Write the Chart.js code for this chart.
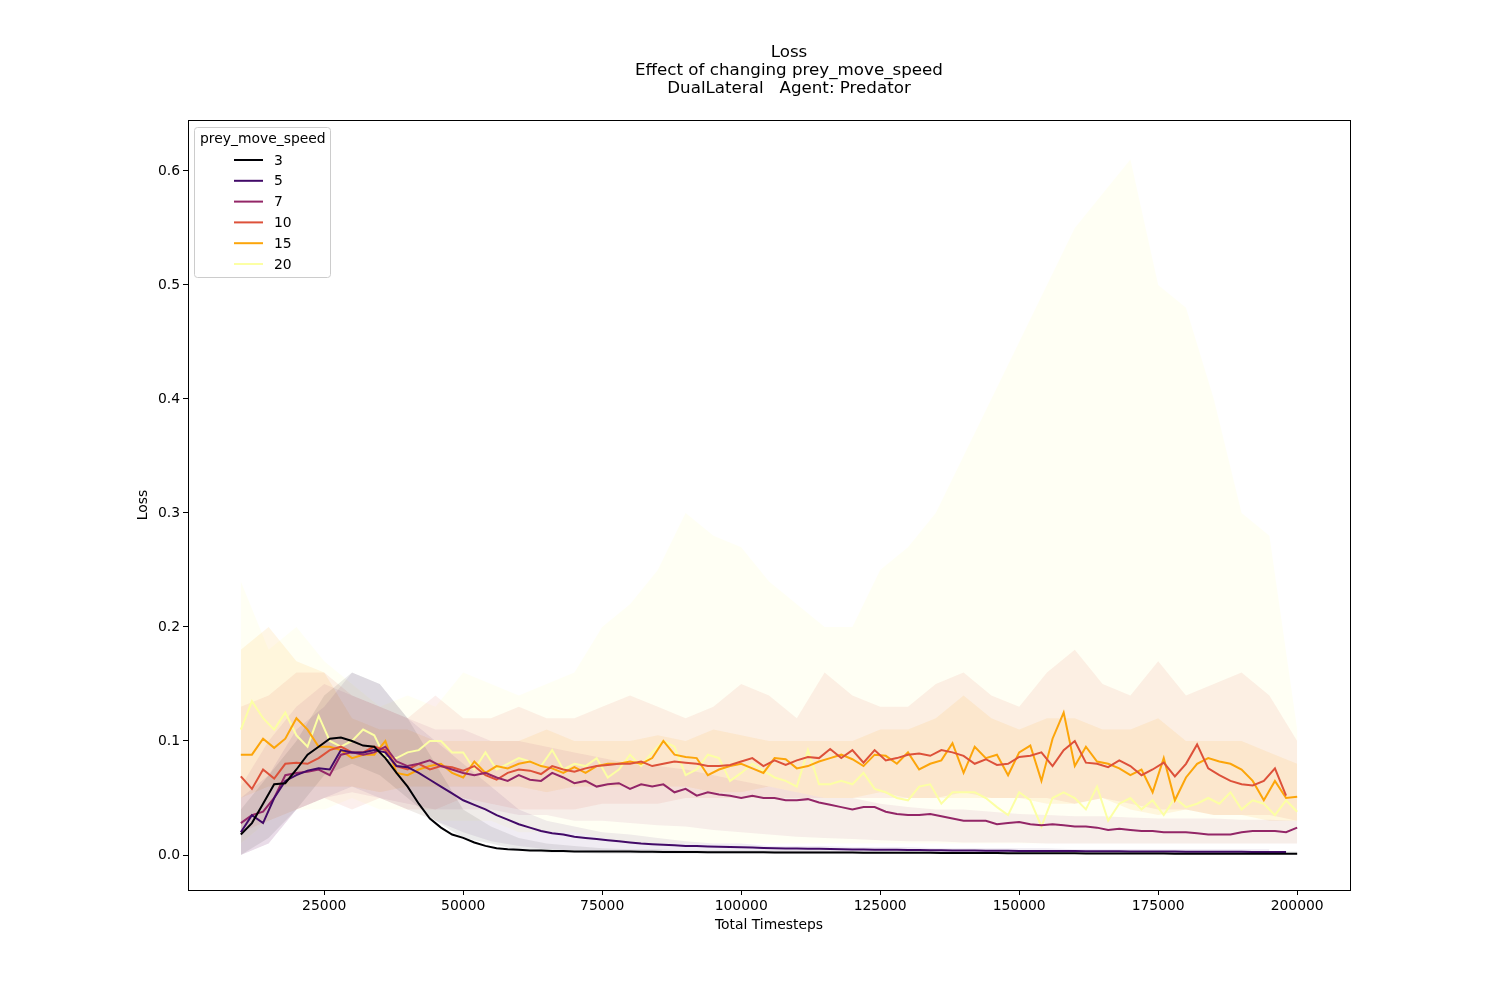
<!DOCTYPE html>
<html>
<head>
<meta charset="utf-8">
<script src="https://cdn.jsdelivr.net/npm/chart.js@4"></script>
<style>
  body { margin: 0; background: #fff; }
  #wrap { width: 1500px; height: 1000px; }
</style>
</head>
<body>
<div id="wrap"><canvas id="chart"></canvas></div>
<script>
// x positions: every 2000 timesteps from 10000 to 200000
const timesteps = [];
for (let t = 10000; t <= 200000; t += 2000) timesteps.push(t);
// band x positions: every 5000 timesteps
const bandSteps = [];
for (let t = 10000; t <= 200000; t += 5000) bandSteps.push(t);

const speeds = ['3', '5', '7', '10', '15', '20'];
const colors = ['#000004', '#420a68', '#932667', '#dd513a', '#fca50a', '#fcffa4'];
const bandAlpha = [0.08, 0.08, 0.08, 0.09, 0.1, 0.12];

const loss3 = [
  .018,.028,.045,.062,.063,.075,.088,.095,.102,.103,
  .100,.096,.095,.085,.072,.060,.045,.032,.024,.018,
  .015,.011,.008,.006,.005,.0045,.004,.004,.0035,.0035,
  .003,.003,.003,.003,.003,.003,.0028,.0028,.0027,.0027,
  .0026,.0026,.0025,.0025,.0025,.0024,.0024,.0024,.0023,.0023,
  .0022,.0022,.0022,.0021,.0021,.0021,.002,.002,.002,.002,
  .0019,.0019,.0019,.0018,.0018,.0018,.0017,.0017,.0017,.0016,
  .0016,.0016,.0015,.0015,.0015,.0015,.0014,.0014,.0014,.0014,
  .0013,.0013,.0013,.0013,.0012,.0012,.0012,.0012,.0012,.0011,
  .0011,.0011,.0011,.0011,.001,.001];
const loss5 = [
  .020,.035,.028,.050,.065,.070,.074,.076,.075,.092,
  .090,.090,.092,.090,.078,.077,.072,.066,.060,.054,
  .048,.044,.040,.035,.031,.027,.024,.021,.019,.018,
  .016,.015,.014,.013,.012,.011,.010,.0095,.009,.0085,
  .008,.0078,.0075,.0072,.007,.0068,.0065,.0062,.006,.0058,
  .0056,.0055,.0054,.0052,.005,.0049,.0048,.0047,.0046,.0045,
  .0044,.0043,.0042,.0041,.004,.004,.0039,.0038,.0038,.0037,
  .0036,.0036,.0035,.0035,.0034,.0034,.0033,.0033,.0032,.0032,
  .0031,.0031,.003,.003,.003,.0029,.0029,.0029,.0028,.0028,
  .0028,.0027,.0027,.0027,.0026,null];
const loss7 = [
  .028,.035,.038,.050,.070,.072,.073,.075,.070,.088,
  .090,.088,.090,.095,.082,.078,.080,.083,.078,.075,
  .072,.070,.072,.068,.065,.070,.066,.065,.072,.068,
  .063,.065,.060,.062,.063,.058,.062,.060,.062,.055,
  .058,.052,.055,.053,.052,.050,.052,.050,.050,.048,
  .048,.049,.046,.044,.042,.040,.042,.042,.038,.036,
  .035,.035,.036,.034,.032,.030,.030,.030,.027,.028,
  .029,.027,.026,.027,.026,.025,.025,.024,.022,.023,
  .022,.021,.021,.020,.020,.020,.019,.018,.018,.018,
  .020,.021,.021,.021,.020,.024];
const loss10 = [
  .069,.058,.075,.067,.080,.081,.080,.085,.092,.095,
  .090,.090,.095,.092,.078,.075,.080,.075,.078,.077,
  .074,.078,.070,.066,.072,.075,.074,.071,.078,.075,
  .073,.076,.078,.079,.080,.080,.082,.078,.080,.082,
  .081,.080,.078,.078,.079,.082,.085,.078,.083,.079,
  .083,.086,.085,.093,.085,.092,.081,.092,.083,.085,
  .088,.089,.087,.092,.090,.087,.080,.084,.079,.080,
  .086,.087,.090,.078,.092,.100,.081,.080,.077,.083,
  .078,.070,.075,.081,.069,.080,.097,.076,.070,.065,
  .062,.061,.065,.076,.052,null];
const loss15 = [
  .088,.088,.102,.094,.102,.120,.110,.095,.095,.092,
  .085,.088,.088,.100,.072,.070,.075,.078,.080,.072,
  .068,.082,.072,.078,.076,.080,.082,.078,.076,.072,
  .077,.072,.078,.080,.080,.082,.080,.085,.100,.088,
  .086,.085,.070,.075,.078,.080,.076,.072,.085,.084,
  .076,.078,.082,.085,.088,.084,.078,.088,.087,.080,
  .090,.075,.080,.083,.098,.072,.095,.085,.088,.070,
  .090,.096,.065,.102,.125,.078,.095,.082,.080,.076,
  .070,.075,.055,.085,.048,.068,.080,.085,.082,.080,
  .075,.065,.048,.065,.050,.051];
const loss20 = [
  .110,.135,.120,.110,.125,.105,.095,.122,.100,.095,
  .100,.110,.105,.085,.085,.090,.092,.100,.100,.090,
  .090,.075,.090,.075,.080,.085,.082,.078,.092,.075,
  .080,.078,.085,.068,.075,.088,.078,.090,.100,.095,
  .070,.075,.088,.085,.065,.072,.080,.074,.068,.065,
  .060,.092,.062,.062,.065,.062,.072,.058,.055,.050,
  .048,.060,.062,.045,.055,.055,.055,.050,.042,.035,
  .055,.048,.025,.050,.055,.050,.040,.060,.030,.045,
  .050,.040,.048,.035,.050,.042,.045,.050,.045,.055,
  .040,.048,.045,.035,.048,.038];

// confidence bands (every 5000 timesteps)
const upper3 = [.04,.07,.10,.14,.16,.15,.12,.08,.04,.025,.015,.01,.008,.006,.005,.005,.004,.004,.004,.004,.004,.004,.003,.003,.003,.003,.003,.003,.003,.003,.003,.003,.003,.003,.003,.003,.003,.003,.003];
const lower3 = [0,.015,.04,.07,.08,.07,.05,.03,.015,.01,.004,.002,.002,.001,.001,.001,.001,.001,.001,.001,.001,.001,.001,.001,.001,.001,.001,.001,.001,.001,.001,.001,.001,.001,.001,.001,.001,.0005,.0005];
const upper5 = [.05,.07,.11,.13,.16,.15,.12,.10,.08,.06,.04,.03,.025,.02,.018,.015,.012,.01,.01,.008,.008,.008,.007,.007,.007,.006,.006,.006,.006,.006,.005,.005,.005,.005,.005,.005,.005,.005,null];
const lower5 = [0,.01,.04,.05,.06,.05,.04,.03,.02,.012,.008,.005,.004,.003,.002,.002,.002,.002,.002,.002,.002,.002,.002,.002,.002,.002,.002,.002,.002,.002,.001,.001,.001,.001,.001,.001,.001,.001,null];
const upper7 = [.06,.10,.13,.15,.14,.13,.12,.11,.11,.10,.10,.095,.09,.085,.08,.078,.075,.07,.065,.06,.055,.05,.05,.045,.042,.04,.04,.038,.036,.035,.034,.034,.033,.032,.032,.032,.031,.031,.03];
const lower7 = [0,.01,.04,.05,.055,.05,.045,.04,.04,.04,.035,.035,.03,.03,.028,.026,.025,.022,.02,.018,.016,.015,.014,.013,.012,.012,.011,.011,.011,.01,.01,.01,.01,.01,.01,.01,.01,.01,.01];
const upper10 = [.13,.14,.16,.16,.14,.13,.12,.14,.12,.12,.13,.12,.12,.13,.14,.13,.12,.13,.15,.14,.12,.16,.14,.13,.13,.15,.16,.14,.13,.16,.18,.15,.14,.17,.14,.15,.16,.14,.10];
const lower10 = [.02,.03,.04,.05,.04,.05,.04,.04,.05,.045,.04,.04,.04,.045,.045,.045,.05,.05,.05,.05,.05,.05,.05,.05,.05,.05,.055,.05,.05,.05,.045,.05,.045,.04,.04,.035,.035,.035,.03];
const upper15 = [.18,.20,.17,.16,.12,.11,.11,.10,.10,.10,.10,.11,.10,.10,.10,.105,.10,.11,.105,.10,.10,.10,.10,.11,.11,.12,.14,.12,.11,.12,.12,.11,.11,.12,.10,.10,.10,.09,.08];
const lower15 = [.05,.06,.06,.06,.06,.055,.06,.06,.06,.06,.06,.055,.06,.06,.06,.06,.06,.055,.055,.06,.055,.05,.05,.055,.05,.05,.05,.05,.05,.045,.045,.05,.04,.035,.04,.035,.035,.03,.03];
const upper20 = [.24,.18,.20,.17,.15,.13,.14,.13,.16,.15,.14,.15,.16,.20,.22,.25,.30,.28,.27,.24,.22,.20,.20,.25,.27,.30,.35,.40,.45,.50,.55,.58,.61,.50,.48,.40,.30,.28,.11];
const lower20 = [.01,.03,.04,.04,.05,.04,.04,.03,.03,.03,.02,.02,.02,.015,.01,.01,.01,.01,.01,.01,.01,.01,.01,.01,.01,.01,.01,.01,.01,.01,.01,.01,.01,.01,.01,.01,.01,.01,.01];

const lines = [loss3, loss5, loss7, loss10, loss15, loss20];
const uppers = [upper3, upper5, upper7, upper10, upper15, upper20];
const lowers = [lower3, lower5, lower7, lower10, lower15, lower20];

function pts(xs, ys) {
  return xs.map((x, i) => ({ x: x, y: ys[i] }));
}
function alpha(hex, a) {
  const n = parseInt(hex.slice(1), 16);
  return `rgba(${n >> 16},${(n >> 8) & 255},${n & 255},${a})`;
}

const datasets = [];
speeds.forEach((s, i) => {
  datasets.push({
    label: s,
    data: pts(timesteps, lines[i]),
    borderColor: colors[i],
    backgroundColor: colors[i],
    borderWidth: 2,
    pointRadius: 0,
    tension: 0,
    fill: false,
    order: 0
  });
});
speeds.forEach((s, i) => {
  datasets.push({
    label: 'band_hi_' + s,
    data: pts(bandSteps, uppers[i]),
    borderWidth: 0,
    borderColor: 'transparent',
    backgroundColor: alpha(colors[i], bandAlpha[i]),
    pointRadius: 0,
    fill: '+1',
    order: 1
  });
  datasets.push({
    label: 'band_lo_' + s,
    data: pts(bandSteps, lowers[i]),
    borderWidth: 0,
    borderColor: 'transparent',
    pointRadius: 0,
    fill: false,
    order: 1
  });
});

const font = { family: 'DejaVu Sans', size: 13.9 };

const framePlugin = {
  id: 'frame',
  afterDraw(chart) {
    const { ctx, chartArea: a } = chart;
    ctx.save();
    ctx.strokeStyle = '#000';
    ctx.lineWidth = 1;
    ctx.strokeRect(a.left + 0.5, a.top + 0.5, a.right - a.left, a.bottom - a.top);
    ctx.fillStyle = '#000';
    ctx.font = '16.7px "DejaVu Sans"';
    ctx.textAlign = 'center';
    ctx.textBaseline = 'middle';
    ['Loss', 'Effect of changing prey_move_speed', 'DualLateral   Agent: Predator']
      .forEach((t, k) => ctx.fillText(t, 789, 53 + k * 18));
    ctx.font = '13.9px "DejaVu Sans"';
    ctx.fillText('Total Timesteps', 769, 925);
    ctx.save();
    ctx.translate(143, 505);
    ctx.rotate(-Math.PI / 2);
    ctx.fillText('Loss', 0, 0);
    ctx.restore();
    // legend box
    ctx.fillStyle = 'rgba(255,255,255,0.8)';
    ctx.strokeStyle = '#cccccc';
    ctx.beginPath();
    ctx.roundRect(194.5, 127.5, 136, 150, 3);
    ctx.fill();
    ctx.stroke();
    ctx.fillStyle = '#000';
    ctx.textAlign = 'left';
    ctx.fillText('prey_move_speed', 200, 139);
    speeds.forEach((s, k) => {
      const y = 160 + k * 20.8;
      ctx.strokeStyle = colors[k];
      ctx.lineWidth = 2;
      ctx.beginPath();
      ctx.moveTo(234, y);
      ctx.lineTo(263, y);
      ctx.stroke();
      ctx.fillText(s, 274, y + 1);
    });
    ctx.restore();
  }
};

new Chart(document.getElementById('chart'), {
  type: 'line',
  data: { datasets: datasets },
  plugins: [framePlugin],
  options: {
    responsive: true,
    maintainAspectRatio: false,
    animation: false,
    layout: { padding: { top: 120, right: 150, left: 0, bottom: 0 } },
    plugins: {
      title: { display: false },
      tooltip: { enabled: false },
      legend: { display: false }
    },
    scales: {
      x: {
        type: 'linear',
        min: 500,
        max: 209500,
        afterFit: s => { s.height = 110; },
        afterBuildTicks: s => {
          s.ticks = [25000, 50000, 75000, 100000, 125000, 150000, 175000, 200000].map(v => ({ value: v }));
        },
        ticks: { color: '#000', font: font, maxRotation: 0, callback: v => String(v) },
        grid: { display: true, drawOnChartArea: false, tickLength: 5, color: '#000' },
        border: { display: true, color: '#000' }
      },
      y: {
        min: -0.0307,
        max: 0.6447,
        afterFit: s => { s.width = 188; },
        afterBuildTicks: s => {
          s.ticks = [0, 0.1, 0.2, 0.3, 0.4, 0.5, 0.6].map(v => ({ value: v }));
        },
        ticks: { color: '#000', font: font, callback: v => v.toFixed(1) },
        grid: { display: true, drawOnChartArea: false, tickLength: 5, color: '#000' },
        border: { display: true, color: '#000' }
      }
    }
  }
});
</script>
</body>
</html>
